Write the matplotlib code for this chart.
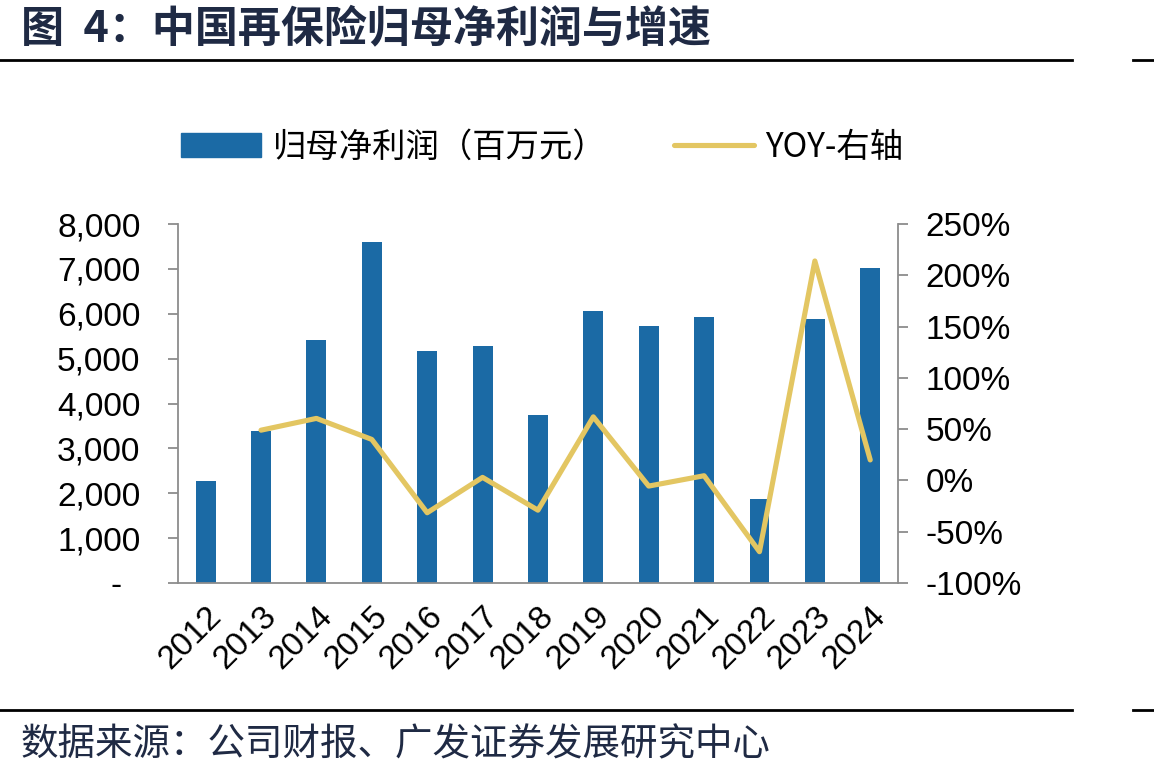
import matplotlib.pyplot as plt
from matplotlib.lines import Line2D
from matplotlib.patches import Patch

plt.rcParams['font.family'] = ['Liberation Sans', 'Noto Sans CJK SC', 'DejaVu Sans']

years = ['2012', '2013', '2014', '2015', '2016', '2017', '2018',
         '2019', '2020', '2021', '2022', '2023', '2024']
profit = [2280, 3394, 5415, 7592, 5170, 5281, 3744, 6061, 5727, 5935, 1865, 5876, 7013]
yoy = [None, 49, 60.5, 40, -31.5, 3, -29, 62, -5.5, 4.6, -69.5, 214, 20]

bar_color = '#1B6AA5'
line_color = '#E3C662'
grey = '#8C8C8C'
navy = '#1F2A44'
cjk = ['Noto Sans CJK SC', 'DejaVu Sans']

fig = plt.figure(figsize=(11.54, 7.79), dpi=100)
ax = fig.add_axes([0.1542, 0.2516, 0.6239, 0.4608])
ax2 = ax.twinx()

x = list(range(len(years)))
ax.bar(x, profit, width=0.36, color=bar_color, zorder=2)
xs = [i for i, v in zip(x, yoy) if v is not None]
ys = [v for v in yoy if v is not None]
ax2.plot(xs, ys, color=line_color, lw=3.7, solid_capstyle='round', zorder=3)

ax.set_xlim(-0.5, 12.5)
ax.set_ylim(0, 8000)
ax.set_yticks(range(0, 8001, 1000))
ax.set_yticklabels(['-  '] + [f'{v:,}' for v in range(1000, 8001, 1000)])
ax2.set_ylim(-100, 250)
ax2.set_yticks(range(-100, 251, 50))
ax2.set_yticklabels([f'{v}%' for v in range(-100, 251, 50)])

ax.set_xticks(x)
ax.set_xticklabels(years, rotation=45, ha='right', va='top', rotation_mode='anchor')

for a in (ax, ax2):
    for s in a.spines.values():
        s.set_visible(False)
ax.tick_params(axis='y', labelsize=24, length=7, width=1.3, color=grey, pad=20)
ax2.tick_params(axis='y', labelsize=24, length=7, width=1.3, color=grey, pad=13)
ax.spines['left'].set_visible(True)
ax.spines['bottom'].set_visible(True)
ax2.spines['right'].set_visible(True)
for s in (ax.spines['left'], ax.spines['bottom'], ax2.spines['right']):
    s.set_color(grey)
    s.set_linewidth(1.3)
ax.tick_params(axis='x', length=0, labelsize=24, pad=13)
ax.set_zorder(ax2.get_zorder() - 1)
ax.patch.set_visible(False)
ax2.patch.set_visible(False)

handles = [Patch(color=bar_color), Line2D([0], [0], color=line_color, lw=3.7, solid_capstyle='round')]
labels = ['归母净利润（百万元）', 'YOY-右轴']
fig.legend(handles, labels, loc='center', bbox_to_anchor=(0.47, 0.811), ncol=2, frameon=False,
           prop={'family': cjk, 'size': 24}, handlelength=2.4, handleheight=0.7,
           columnspacing=2.0, handletextpad=0.35)

fig.text(0.018, 0.964, '图  4：中国再保险归母净利润与增速', fontsize=31, fontweight='bold',
         color=navy, family=cjk, va='center')
fig.text(0.018, 0.044, '数据来源：公司财报、广发证券发展研究中心', fontsize=27,
         color=navy, family=cjk, va='center')

for yl in (0.923, 0.088):
    fig.add_artist(Line2D([0, 0.929], [yl, yl], color='black', lw=2, transform=fig.transFigure))
    fig.add_artist(Line2D([0.982, 1.0], [yl, yl], color='black', lw=2, transform=fig.transFigure))

fig.savefig('out.png', dpi=100)
